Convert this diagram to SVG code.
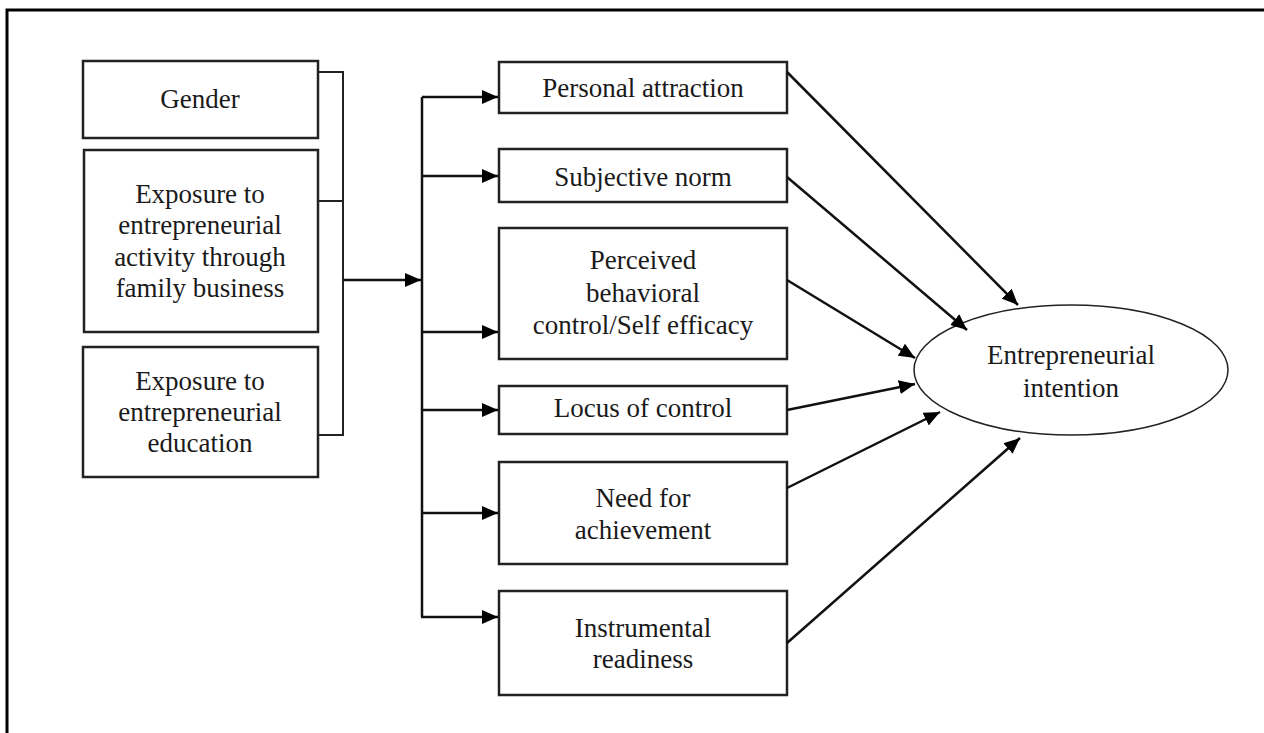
<svg xmlns="http://www.w3.org/2000/svg" width="1264" height="733" viewBox="0 0 1264 733">
<style>
.box{fill:#fff;stroke:#222;stroke-width:2.5}
.t{font-family:'Liberation Serif','Times New Roman',serif;font-size:27px;fill:#1a1a1a;text-anchor:middle}
.ln{fill:none;stroke:#111;stroke-width:2.5}
.br{fill:none;stroke:#222;stroke-width:2}
</style>
<defs>
<marker id="ah" markerUnits="userSpaceOnUse" markerWidth="18" markerHeight="14" refX="16" refY="7" orient="auto">
<path d="M0,0 L16,7 L0,14 z" fill="#000"/>
</marker>
</defs>
<rect width="1264" height="733" fill="#fff"/>
<path d="M7,733 V10 H1264" fill="none" stroke="#000" stroke-width="3"/>

<g id="gender">
<rect class="box" x="83" y="61" width="235" height="77"/>
<text class="t" x="200" y="108">Gender</text>
</g>
<g id="family">
<rect class="box" x="84" y="150" width="234" height="182"/>
<text class="t" x="200" y="203">Exposure to</text>
<text class="t" x="200" y="234">entrepreneurial</text>
<text class="t" x="200" y="266">activity through</text>
<text class="t" x="200" y="297">family business</text>
</g>
<g id="education">
<rect class="box" x="83" y="347" width="235" height="130"/>
<text class="t" x="200" y="390">Exposure to</text>
<text class="t" x="200" y="421">entrepreneurial</text>
<text class="t" x="200" y="452">education</text>
</g>

<g id="attraction">
<rect class="box" x="499" y="62" width="288" height="51"/>
<text class="t" x="643" y="97">Personal attraction</text>
</g>
<g id="norm">
<rect class="box" x="499" y="149" width="288" height="53"/>
<text class="t" x="643" y="186">Subjective norm</text>
</g>
<g id="pbc">
<rect class="box" x="499" y="228" width="288" height="131"/>
<text class="t" x="643" y="269">Perceived</text>
<text class="t" x="643" y="302">behavioral</text>
<text class="t" x="643" y="334">control/Self efficacy</text>
</g>
<g id="locus">
<rect class="box" x="499" y="386" width="288" height="48"/>
<text class="t" x="643" y="417">Locus of control</text>
</g>
<g id="need">
<rect class="box" x="499" y="462" width="288" height="102"/>
<text class="t" x="643" y="507">Need for</text>
<text class="t" x="643" y="539">achievement</text>
</g>
<g id="instrumental">
<rect class="box" x="499" y="591" width="288" height="104"/>
<text class="t" x="643" y="637">Instrumental</text>
<text class="t" x="643" y="668">readiness</text>
</g>

<g id="intention">
<ellipse cx="1071" cy="370" rx="157" ry="65" fill="#fff" stroke="#222" stroke-width="1.5"/>
<text class="t" x="1071" y="364">Entrepreneurial</text>
<text class="t" x="1071" y="397">intention</text>
</g>

<g id="connectors">
<path class="br" d="M318,72 H343 V435 H318 M318,201 H343"/>
<line class="ln" x1="343" y1="280" x2="421" y2="280" marker-end="url(#ah)"/>
<path class="ln" d="M422,97 V617"/>
<line class="ln" x1="422" y1="97" x2="498" y2="97" marker-end="url(#ah)"/>
<line class="ln" x1="422" y1="176" x2="498" y2="176" marker-end="url(#ah)"/>
<line class="ln" x1="422" y1="332" x2="498" y2="332" marker-end="url(#ah)"/>
<line class="ln" x1="422" y1="410" x2="498" y2="410" marker-end="url(#ah)"/>
<line class="ln" x1="422" y1="513" x2="498" y2="513" marker-end="url(#ah)"/>
<line class="ln" x1="421" y1="617" x2="498" y2="617" marker-end="url(#ah)"/>
<line class="ln" x1="787" y1="72" x2="1018" y2="305" marker-end="url(#ah)"/>
<line class="ln" x1="787" y1="177" x2="967" y2="330" marker-end="url(#ah)"/>
<line class="ln" x1="787" y1="280" x2="915" y2="358" marker-end="url(#ah)"/>
<line class="ln" x1="787" y1="410" x2="915" y2="384" marker-end="url(#ah)"/>
<line class="ln" x1="787" y1="488" x2="940" y2="412" marker-end="url(#ah)"/>
<line class="ln" x1="787" y1="643" x2="1020" y2="438" marker-end="url(#ah)"/>
</g>
</svg>
